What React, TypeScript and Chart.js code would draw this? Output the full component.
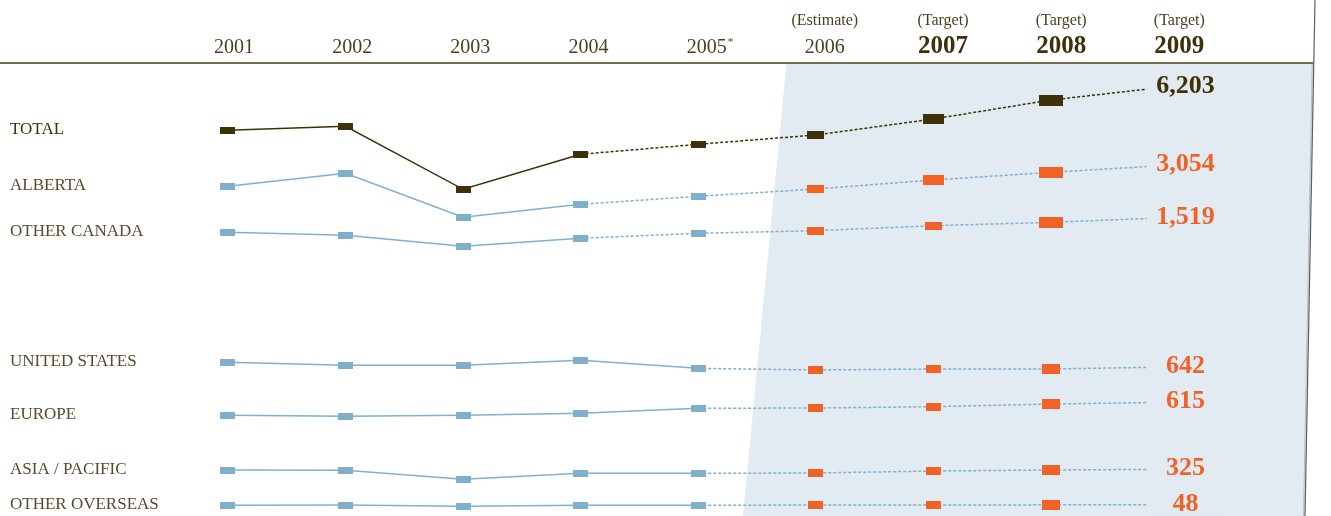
import React, { useEffect, useRef } from 'react';
import { Chart, registerables } from 'chart.js';

Chart.register(...registerables);

// ---- data ($ millions) ----
const years = [2001, 2002, 2003, 2004, 2005, 2006, 2007, 2008, 2009];
const yearNotes = ['', '', '', '', '*', '(Estimate)', '(Target)', '(Target)', '(Target)'];
const seriesNames = ['TOTAL', 'ALBERTA', 'OTHER CANADA', 'UNITED STATES', 'EUROPE', 'ASIA / PACIFIC', 'OTHER OVERSEAS'];

const total = [5331, 5411, 4151, 4851, 5051, 5237, 5557, 5937, 6203];
const alberta = [2634, 2894, 2014, 2274, 2434, 2580, 2760, 2914, 3054];
const otherCanada = [1227, 1167, 947, 1107, 1207, 1259, 1359, 1427, 1519];
const unitedStates = [736, 676, 676, 776, 616, 582, 602, 602, 642];
const europe = [355, 335, 355, 395, 495, 501, 527, 581, 615];
const asiaPacific = [311, 305, 125, 245, 245, 251, 291, 311, 325];
const otherOverseas = [36, 42, 16, 36, 36, 42, 42, 45, 48];

const seriesValues = [total, alberta, otherCanada, unitedStates, europe, asiaPacific, otherOverseas];

// ---- layout / style ----
const W = 1331;
const H = 516;
const HEADER_H = 64;
const UNITS_PER_PX = 20;
const SPAN = (H - HEADER_H) * UNITS_PER_PX;
// top of each series' own band (value at the header rule)
const bandTop = [6657, 5080, 4593, 6702, 7381, 8431, 8862];
const X_MIN = 1999.061;
const X_MAX = 2010.382;
const LAST_ACTUAL = 4; // index of 2005; later years are estimates / targets
// index of the point from which each line turns dotted
const dashFrom = [3, 3, 3, 4, 4, 4, 4];

const FONT = "'Liberation Serif', 'DejaVu Serif', serif";
const C_DARK = '#3e3108';
const C_TEXT = '#574b2b';
const C_BLUE = '#80afce';
const C_BLUE_LINE = '#7fb0d0';
const C_ORANGE = '#f26125';
const C_PANEL = '#e2eaf2';
const C_RULE = '#776e4b';

type Size = [number, number];
const sizeBig: Size[] = [[15, 7], [15, 7], [15, 7], [15, 7], [15, 7], [17, 8], [21, 10], [24, 11]];
const sizeMid: Size[] = [[15, 7], [15, 7], [15, 7], [15, 7], [15, 7], [17, 8], [17, 8], [24, 11]];
const sizeSmall: Size[] = [[15, 7], [15, 7], [15, 7], [15, 7], [15, 7], [15, 8], [15, 8], [18, 10]];
const markerSizes = [sizeBig, sizeBig, sizeMid, sizeSmall, sizeSmall, sizeSmall, sizeSmall];

function rectMarker(w: number, h: number, color: string): HTMLCanvasElement {
  const c = document.createElement('canvas');
  c.width = w;
  c.height = h;
  const g = c.getContext('2d')!;
  g.fillStyle = color;
  g.fillRect(0, 0, w, h);
  return c;
}

const decorPlugin = {
  id: 'decor',
  beforeDatasetsDraw(chart: any) {
    const ctx: CanvasRenderingContext2D = chart.ctx;
    const xs = chart.scales.x;
    const top = chart.chartArea.top;
    ctx.save();
    // shaded estimate / target panel
    const xTop = xs.getPixelForValue(2005.75);
    const xBot = xs.getPixelForValue(2005.38);
    const edgeX = (y: number) => 1315 - (y / H) * 10;
    ctx.fillStyle = C_PANEL;
    ctx.beginPath();
    ctx.moveTo(xTop, top);
    ctx.lineTo(edgeX(top), top);
    ctx.lineTo(edgeX(H), H);
    ctx.lineTo(xBot, H);
    ctx.closePath();
    ctx.fill();
    // right border
    ctx.strokeStyle = '#b9bcc0';
    ctx.lineWidth = 1;
    ctx.beginPath();
    ctx.moveTo(edgeX(top) - 1.5, top);
    ctx.lineTo(edgeX(H) - 1.5, H);
    ctx.stroke();
    ctx.strokeStyle = '#5e5e5e';
    ctx.lineWidth = 1.2;
    ctx.beginPath();
    ctx.moveTo(edgeX(0), 0);
    ctx.lineTo(edgeX(H), H);
    ctx.stroke();
    // header rule
    ctx.strokeStyle = C_RULE;
    ctx.lineWidth = 2;
    ctx.beginPath();
    ctx.moveTo(0, 63);
    ctx.lineTo(edgeX(63), 63);
    ctx.stroke();
    ctx.restore();
  },
  afterDatasetsDraw(chart: any) {
    const ctx: CanvasRenderingContext2D = chart.ctx;
    const xs = chart.scales.x;
    ctx.save();

    // header: years and notes
    years.forEach((yr, i) => {
      const cx = xs.getPixelForValue(yr) + 6 + i * 0.6;
      const bold = i >= 6;
      ctx.fillStyle = bold ? C_DARK : '#4a3f1f';
      ctx.textAlign = 'center';
      ctx.textBaseline = 'alphabetic';
      ctx.font = bold ? `bold 25px ${FONT}` : `20px ${FONT}`;
      ctx.fillText(String(yr), cx, 53);
      const note = yearNotes[i];
      if (note === '*') {
        const w = ctx.measureText(String(yr)).width;
        ctx.font = `11px ${FONT}`;
        ctx.textAlign = 'left';
        ctx.fillText('*', cx + w / 2 + 1, 45);
      } else if (note) {
        ctx.font = `16px ${FONT}`;
        ctx.fillStyle = '#4a3f1f';
        ctx.fillText(note, cx, 25);
      }
    });

    // series names on the left, end values on the right
    seriesValues.forEach((vals, si) => {
      const pts = chart.getDatasetMeta(si).data;
      const first = pts[0];
      ctx.font = `17px ${FONT}`;
      ctx.fillStyle = si === 0 ? C_DARK : C_TEXT;
      ctx.textAlign = 'left';
      ctx.textBaseline = 'alphabetic';
      ctx.fillText(seriesNames[si], 10, first.y + 4);

      const last = pts[pts.length - 1];
      const cy = last.y - 3;
      ctx.fillStyle = C_PANEL;
      ctx.fillRect(last.x - 22, cy - 14, 80, 28);
      ctx.font = `bold 26px ${FONT}`;
      ctx.fillStyle = si === 0 ? C_DARK : C_ORANGE;
      ctx.textAlign = 'center';
      ctx.fillText(vals[vals.length - 1].toLocaleString('en-US'), last.x + 17, cy + 9);
    });
    ctx.restore();
  },
};

export default function App() {
  const ref = useRef<HTMLCanvasElement | null>(null);

  useEffect(() => {
    if (!ref.current) return;
    const markers = seriesValues.map((_, si) =>
      markerSizes[si].map(([w, h], i) =>
        rectMarker(w, h, si === 0 ? C_DARK : i <= LAST_ACTUAL ? C_BLUE : C_ORANGE)
      )
    );

    const datasets = seriesValues.map((vals, si) => ({
      label: seriesNames[si],
      data: vals.map((v, i) => ({ x: years[i], y: v })),
      yAxisID: 'y' + si,
      borderColor: si === 0 ? C_DARK : C_BLUE_LINE,
      borderWidth: 1.5,
      tension: 0,
      clip: false as any,
      pointStyle: (c: any) => markers[si][Math.min(c.dataIndex, markers[si].length - 1)],
      pointRadius: (c: any) => (c.dataIndex < years.length - 1 ? 5 : 0),
      segment: {
        borderDash: (c: any) => (c.p0DataIndex >= dashFrom[si] ? [3, 2] : undefined),
      },
    }));

    const scales: any = {
      x: { type: 'linear', min: X_MIN, max: X_MAX, display: false },
    };
    bandTop.forEach((t, si) => {
      scales['y' + si] = { type: 'linear', min: t - SPAN, max: t, display: false };
    });

    const chart = new Chart(ref.current, {
      type: 'line',
      data: { datasets },
      options: {
        animation: false,
        responsive: false,
        events: [],
        layout: { autoPadding: false, padding: { top: HEADER_H, left: 0, right: 0, bottom: 0 } },
        plugins: { legend: { display: false }, tooltip: { enabled: false } },
        scales,
      },
      plugins: [decorPlugin],
    });
    return () => chart.destroy();
  }, []);

  return (
    <div style={{ position: 'absolute', left: 0, top: 0, width: W, height: H, background: '#fff' }}>
      <canvas ref={ref} width={W} height={H} style={{ display: 'block' }} />
    </div>
  );
}
